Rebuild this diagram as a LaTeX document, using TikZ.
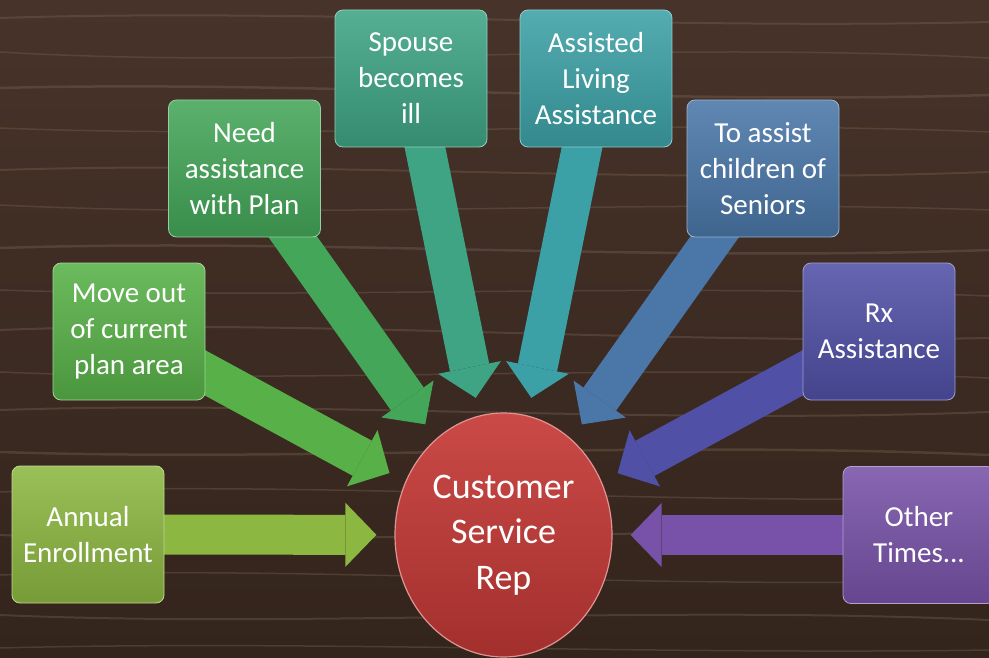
\documentclass[tikz,border=0pt]{standalone}
\usepackage{fontspec}
\setmainfont{Carlito}
\usetikzlibrary{shapes.geometric,arrows.meta}
\pgfdeclarelayer{wood}
\pgfdeclarelayer{shafts}
\pgfsetlayers{wood,shafts,main}

\definecolor{woodtop}{HTML}{47332A}
\definecolor{woodbot}{HTML}{33241C}
\definecolor{grain}{HTML}{7E6A56}
\definecolor{csrred}{HTML}{C63A37}
\definecolor{annualc}{HTML}{8CB741}
\definecolor{movec}{HTML}{58B148}
\definecolor{needc}{HTML}{44A658}
\definecolor{spousec}{HTML}{3EA484}
\definecolor{livingc}{HTML}{3CA1A6}
\definecolor{childc}{HTML}{4A77A8}
\definecolor{rxc}{HTML}{5050A6}
\definecolor{otherc}{HTML}{7852A8}

\tikzset{
  reason/.style={rounded corners=8pt, minimum width=152pt, minimum height=137pt,
    inner sep=2pt, align=center, text=white, font=\fontsize{29}{36}\selectfont,
    top color=#1!88!white, bottom color=#1!85!black, draw=#1!55!white, line width=.8pt},
  feed/.style={draw=#1, line width=40pt, shorten >=18pt,
    -{Triangle[width=64pt,length=31pt,line width=0pt]}},
  grainline/.style={grain, opacity=.35, line width=#1},
}

\begin{document}
\begin{tikzpicture}[x=1pt,y=-1pt]
  \useasboundingbox (0,0) rectangle (989,658);
  \clip (0,0) rectangle (989,658);

  % wood
  \begin{pgfonlayer}{wood}
    \shade[top color=woodtop, bottom color=woodbot] (0,0) rectangle (989,658);
    \foreach \ya/\yb/\yc/\yd/\w in {18/8/30/22/2pt, 52/70/40/58/1.5pt, 88/80/105/95/2.5pt,
        128/140/118/132/1.5pt, 170/160/185/172/2pt, 205/220/198/210/1.5pt,
        248/238/262/250/2.5pt, 290/300/282/296/1.5pt, 330/318/345/338/2pt,
        372/385/362/378/1.5pt, 410/400/425/412/2pt, 452/462/440/455/2.5pt,
        492/480/505/498/1.5pt, 535/548/522/540/2pt, 575/565/590/580/1.5pt,
        615/628/605/620/2pt, 648/640/655/650/1.5pt}
      \draw[grainline=\w] (0,\ya) .. controls (300,\yb) and (650,\yc) .. (989,\yd);
  \end{pgfonlayer}

  % centre
  \node[ellipse, minimum width=217pt, minimum height=244pt, inner sep=0pt,
    top color=csrred!92!white, bottom color=csrred!82!black, draw=csrred!55!white,
    line width=1.2pt, align=center, text=white, font=\fontsize{36}{45.5}\selectfont]
    (csr) at (503.5,535) {Customer\\Service\\Rep};

  % reasons
  \node[reason=annualc] (annual) at (88,534.5) {Annual\\Enrollment};
  \node[reason=movec] (move) at (129,331.5) {Move out\\of current\\plan area};
  \node[reason=needc] (need) at (244.5,168.5) {Need\\assistance\\with Plan};
  \node[reason=spousec] (spouse) at (411,78.5) {Spouse\\becomes\\ill};
  \node[reason=livingc] (living) at (596,78.5) {Assisted\\Living\\Assistance};
  \node[reason=childc] (child) at (763,168.5) {To assist\\children of\\Seniors};
  \node[reason=rxc] (rx) at (879,331.5) {Rx\\Assistance};
  \node[reason=otherc] (other) at (919,535) {Other\\Times...};

  \begin{pgfonlayer}{shafts}
    \foreach \n/\c in {annual/annualc, move/movec, need/needc, spouse/spousec,
        living/livingc, child/childc, rx/rxc, other/otherc}
      \draw[feed=\c] (\n.center) -- (csr);
  \end{pgfonlayer}
\end{tikzpicture}
\end{document}
